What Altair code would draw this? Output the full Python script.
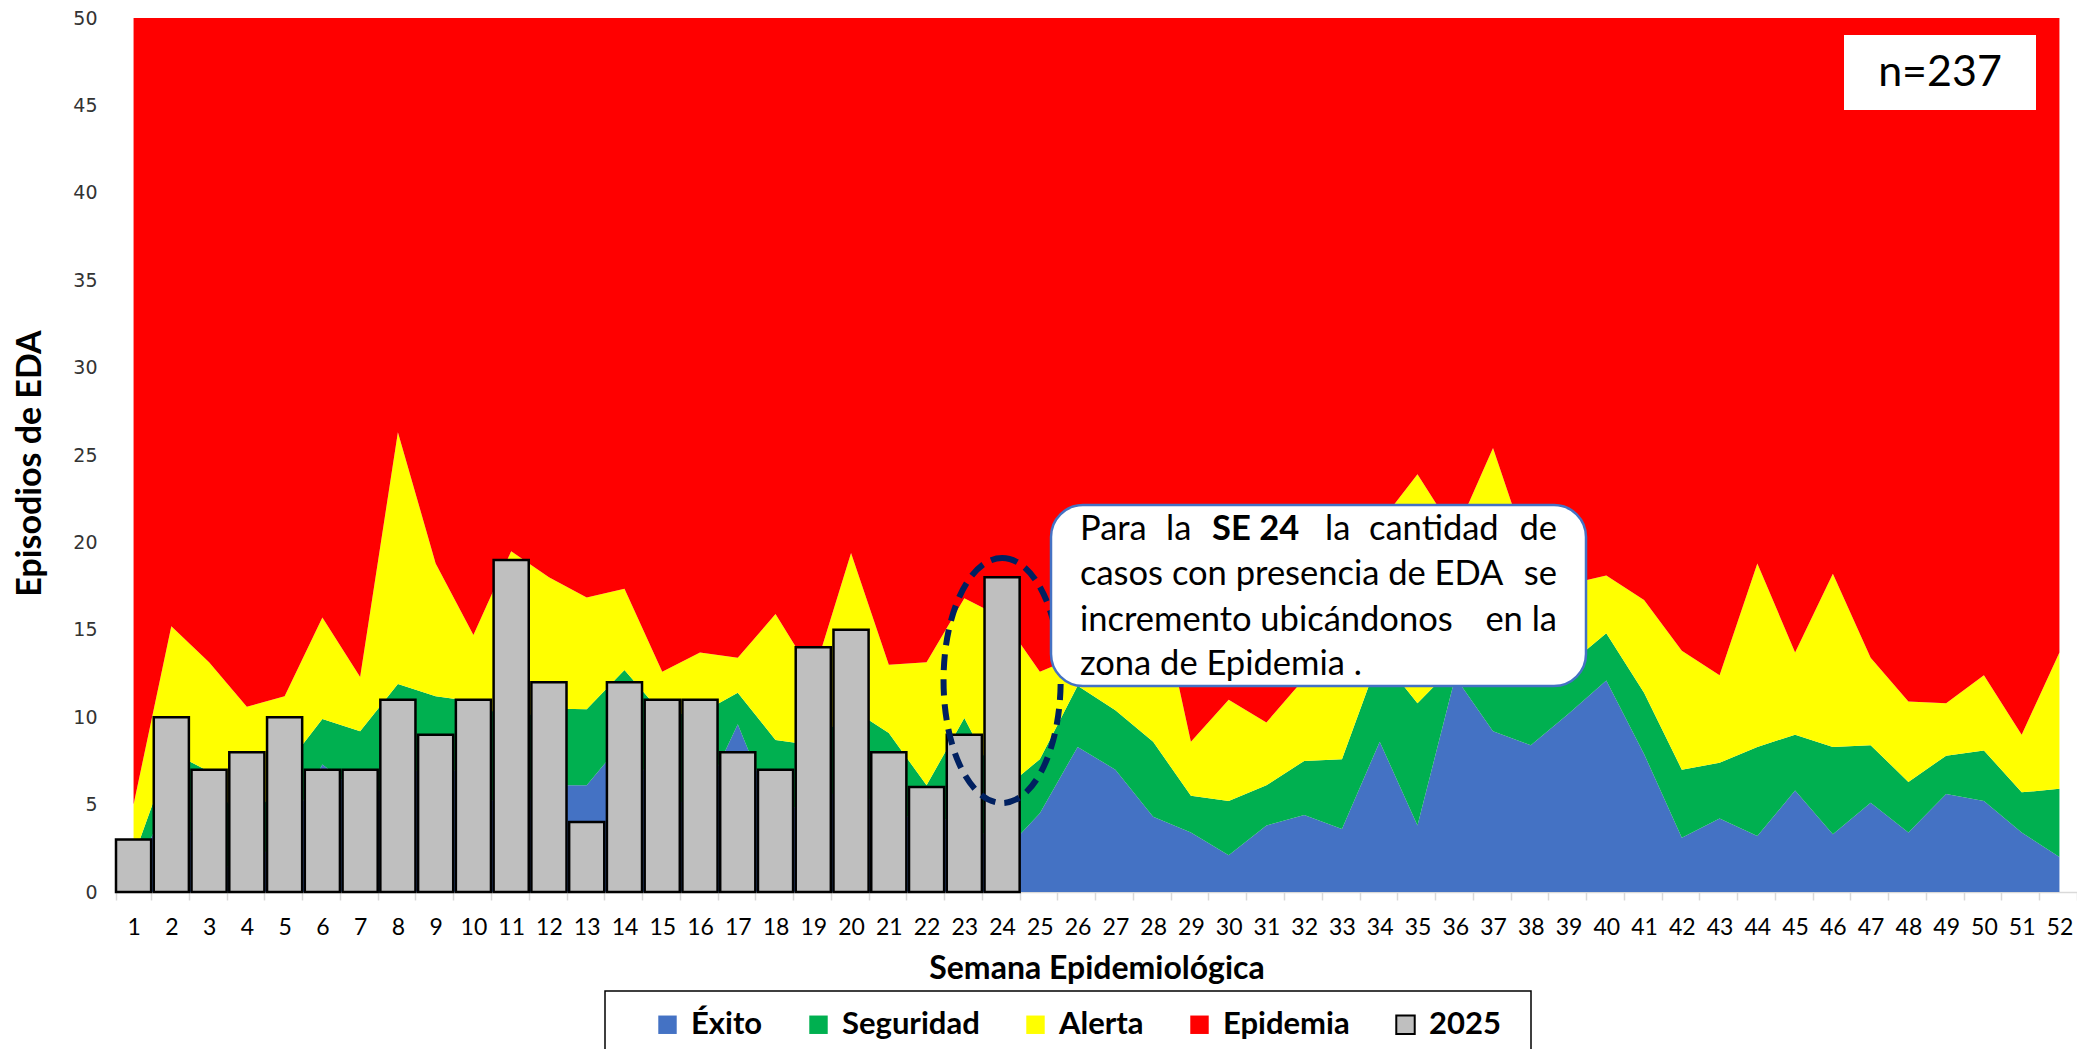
import altair as alt
import pandas as pd

# ---------------- data ----------------
semanas = [str(i) for i in range(1, 53)]

# upper limit of each zone (cumulative)
exito_sup = [1.0, 5.5, 1.5, 1.4, 3.2, 7.3, 5.6, 6.0, 7.9, 6.0, 4.5, 6.1, 6.1, 8.7, 5.3, 5.0,
             9.6, 4.3, 5.4, 5.8, 4.8, 3.8, 4.5, 2.2, 4.5, 8.3, 7.0, 4.3, 3.4, 2.1, 3.8, 4.4,
             3.6, 8.6, 3.8, 12.3, 9.2, 8.4, 10.2, 12.1, 7.9, 3.1, 4.2, 3.2, 5.8, 3.3, 5.1,
             3.4, 5.6, 5.2, 3.4, 2.0]
seguridad_sup = [2.0, 8.0, 6.9, 3.3, 7.1, 9.9, 9.2, 11.9, 11.2, 10.9, 9.8, 10.5, 10.45, 12.7,
                 10.2, 10.2, 11.4, 8.7, 8.4, 10.5, 9.1, 6.1, 9.95, 5.8, 7.6, 11.8, 10.4, 8.6,
                 5.5, 5.2, 6.1, 7.5, 7.6, 13.5, 10.8, 13.0, 13.0, 12.5, 13.0, 14.8, 11.4, 7.0,
                 7.4, 8.3, 9.0, 8.3, 8.4, 6.3, 7.8, 8.1, 5.7, 5.9]
alerta_sup = [5.0, 15.2, 13.15, 10.6, 11.2, 15.7, 12.3, 26.3, 18.8, 14.7, 19.5, 18.0, 16.85,
              17.35, 12.6, 13.7, 13.4, 15.9, 12.4, 19.4, 13.0, 13.15, 16.8, 15.7, 12.6, 13.5,
              16.0, 18.5, 8.6, 11.0, 9.7, 12.2, 16.0, 21.1, 23.9, 20.5, 25.4, 19.0, 17.6, 18.1,
              16.7, 13.8, 12.4, 18.8, 13.7, 18.2, 13.4, 10.9, 10.8, 12.4, 9.0, 13.7]
epidemia_sup = 50

casos_2025 = [3, 10, 7, 8, 10, 7, 7, 11, 9, 11, 19, 12, 4, 12, 11, 11, 8, 7, 14, 15, 8, 6, 9, 18]

zonas = ["Éxito", "Seguridad", "Alerta", "Epidemia"]
series = zonas + ["2025"]
colores = ["#4472C4", "#00B050", "#FFFF00", "#FF0000", "#BFBFBF"]
bordes = ["rgba(0,0,0,0)"] * 4 + ["#000000"]

filas = []
for i, s in enumerate(semanas):
    lim = [0, exito_sup[i], seguridad_sup[i], alerta_sup[i], epidemia_sup]
    for j, z in enumerate(zonas):
        filas.append({"semana": s, "serie": z, "lo": lim[j], "hi": lim[j + 1]})
df_area = pd.DataFrame(filas)
df_bar = pd.DataFrame({"semana": semanas[:len(casos_2025)], "serie": "2025", "casos": casos_2025})
df_elipse = pd.DataFrame({"semana": ["24"], "y": [12.1]})
uno = pd.DataFrame({"k": [0]})

W, H = 1961, 874
FONT = "Lato"

x_enc = alt.X(
    "semana:O", sort=semanas,
    scale=alt.Scale(domain=semanas, paddingInner=0.07, paddingOuter=0),
    axis=alt.Axis(
        title="Semana Epidemiológica", titleFont=FONT, titleFontSize=32, titleFontWeight="bold",
        titleColor="#000000", titleX=W / 2, titleY=76, titleBaseline="middle", titleAlign="center",
        labelAngle=0, labelFont=FONT, labelFontSize=23, labelColor="#000000",
        labelBaseline="middle", labelPadding=27,
        domainColor="#D9D9D9", domainWidth=1.5, tickColor="#D9D9D9", tickWidth=1.5,
        tickSize=8, tickBand="extent", grid=False,
    ),
)
y_scale = alt.Scale(domain=[0, 50], nice=False, zero=True)
y_axis = alt.Axis(
    values=list(range(0, 51, 5)), title="Episodios de EDA", titleFont=FONT, titleFontSize=34,
    titleFontWeight="bold", titleColor="#000000", titleX=-86, titleY=445, titleAngle=-90,
    titleBaseline="middle", titleAlign="center",
    labelFont="DejaVu Sans", labelFontSize=19, labelColor="#333333", labelPadding=19,
    domain=False, ticks=False, grid=False,
)

leg = dict(
    title=None, orient="none", legendX=536, legendY=991, direction="horizontal",
    symbolType="square", symbolSize=340, symbolStrokeWidth=2, symbolOpacity=1,
    labelFont=FONT, labelFontSize=31, labelFontWeight="bold", labelColor="#000000",
    labelOffset=8, columnPadding=40, padding=0, labelLimit=300,
)
color_enc = alt.Color("serie:N", scale=alt.Scale(domain=series, range=colores), legend=alt.Legend(**leg))
stroke_enc = alt.Stroke("serie:N", scale=alt.Scale(domain=series, range=bordes), legend=alt.Legend(**leg))

areas = alt.Chart(df_area).mark_area(opacity=1, interpolate="linear", strokeWidth=0.6).encode(
    x=x_enc,
    y=alt.Y("hi:Q", scale=y_scale, axis=y_axis),
    y2="lo:Q",
    color=color_enc,
    stroke=stroke_enc,
    detail="serie:N",
)

barras = alt.Chart(df_bar).mark_bar(strokeWidth=2.5, opacity=1).encode(
    x=x_enc,
    y=alt.Y("casos:Q", scale=y_scale),
    color=color_enc,
    stroke=stroke_enc,
)

ell_path = ("M0,-1 C0.264,-1 0.478,-0.552 0.478,0 C0.478,0.552 0.264,1 0,1 "
            "C-0.264,1 -0.478,0.552 -0.478,0 C-0.478,-0.552 -0.264,-1 0,-1 Z")
elipse = alt.Chart(df_elipse).mark_point(
    shape=ell_path, filled=False, size=245 * 245, stroke="#002060", strokeWidth=6,
    strokeDash=[16, 9], opacity=1,
).encode(x=x_enc, y=alt.Y("y:Q", scale=y_scale))

# legend frame
marco_leyenda = alt.Chart(uno).mark_rect(fill="#FFFFFF", fillOpacity=0, stroke="#000000", strokeWidth=1.5).encode(
    x=alt.value(489), x2=alt.value(1415), y=alt.value(973), y2=alt.value(1120)
)

# callout box
caja = alt.Chart(uno).mark_rect(fill="#FFFFFF", stroke="#4472C4", strokeWidth=2.5, cornerRadius=32).encode(
    x=alt.value(935), x2=alt.value(1470), y=alt.value(487), y2=alt.value(668)
)
TF = 34.5
def txt(t, x, y, align="left", weight="normal"):
    return alt.Chart(uno).mark_text(
        text=t, font=FONT, fontSize=TF, fontWeight=weight, align=align, baseline="middle", color="#000000"
    ).encode(x=alt.value(x), y=alt.value(y))

l1, l2, l3, l4 = 511.8, 557.4, 603, 646.8
textos = [
    txt("Para", 964, l1),
    txt("la", 1050, l1),
    txt("SE 24", 1096, l1, weight="bold"),
    txt("la", 1209, l1),
    txt("cantidad", 1253, l1),
    txt("de", 1441, l1, align="right"),
    txt("casos con presencia de EDA", 964, l2),
    txt("se", 1441, l2, align="right"),
    txt("incremento ubicándonos", 964, l3),
    txt("en la", 1441, l3, align="right"),
    txt("zona de Epidemia .", 964, l4),
]

caja_n = alt.Chart(uno).mark_rect(fill="#FFFFFF", strokeWidth=0).encode(
    x=alt.value(1728), x2=alt.value(1920), y=alt.value(17), y2=alt.value(92)
)
texto_n = alt.Chart(uno).mark_text(
    text="n=237", font=FONT, fontSize=43, align="center", baseline="middle", color="#000000"
).encode(x=alt.value(1824), y=alt.value(54.5))

chart = alt.layer(
    areas, barras, elipse, marco_leyenda, caja, *textos, caja_n, texto_n
).resolve_scale(x="shared", y="shared", color="shared", stroke="shared").properties(
    width=W, height=H,
    autosize=alt.AutoSizeParams(type="none"),
    padding={"left": 108, "top": 10, "right": 0, "bottom": 157},
    background="#FFFFFF",
).configure_view(strokeWidth=0)

chart.save("out.html", embed_options={"renderer": "svg", "actions": False})
